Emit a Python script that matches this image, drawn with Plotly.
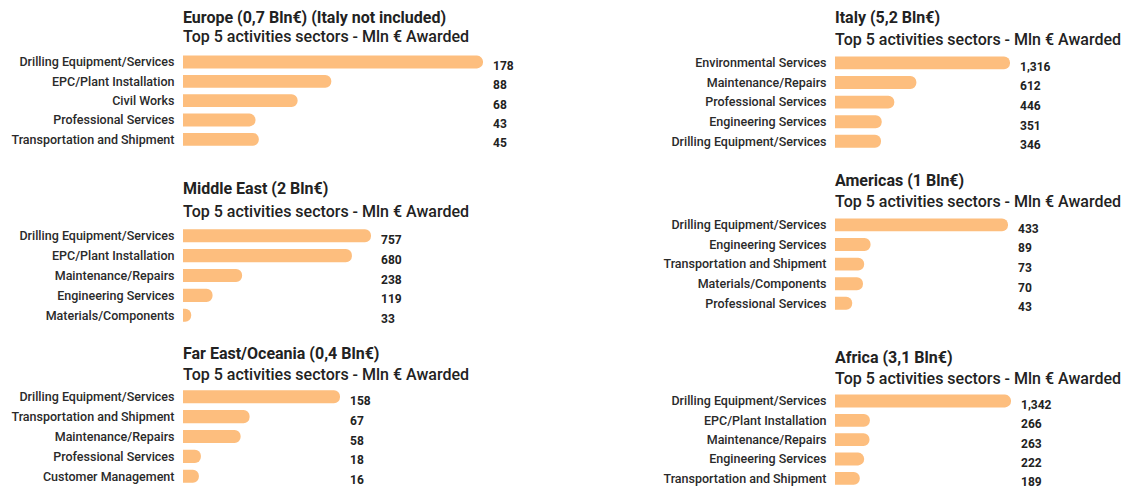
import plotly.graph_objects as go

W, H = 1124, 488

# ---- data ----
europe_cats = ["Drilling Equipment/Services", "EPC/Plant Installation", "Civil Works",
               "Professional Services", "Transportation and Shipment"]
europe_vals = [178, 88, 68, 43, 45]

mideast_cats = ["Drilling Equipment/Services", "EPC/Plant Installation", "Maintenance/Repairs",
                "Engineering Services", "Materials/Components"]
mideast_vals = [757, 680, 238, 119, 33]

fareast_cats = ["Drilling Equipment/Services", "Transportation and Shipment", "Maintenance/Repairs",
                "Professional Services", "Customer Management"]
fareast_vals = [158, 67, 58, 18, 16]

italy_cats = ["Environmental Services", "Maintenance/Repairs", "Professional Services",
              "Engineering Services", "Drilling Equipment/Services"]
italy_vals = [1316, 612, 446, 351, 346]

americas_cats = ["Drilling Equipment/Services", "Engineering Services", "Transportation and Shipment",
                 "Materials/Components", "Professional Services"]
americas_vals = [433, 89, 73, 70, 43]

africa_cats = ["Drilling Equipment/Services", "EPC/Plant Installation", "Maintenance/Repairs",
               "Engineering Services", "Transportation and Shipment"]
africa_vals = [1342, 266, 263, 222, 189]

titles = ["Europe (0,7 Bln€) (Italy not included)", "Middle East (2 Bln€)", "Far East/Oceania (0,4 Bln€)",
          "Italy (5,2 Bln€)", "Americas (1 Bln€)", "Africa (3,1 Bln€)"]
subtitle = "Top 5 activities sectors - Mln € Awarded"

# ---- layout geometry (pixels): bar-start x, max-bar-end x, top row y, bottom row y, title y1, y2 ----
geom = [
    (183, 483, 59, 139, 17, 37),
    (183, 371, 233, 315, 188, 212),
    (183, 340, 394, 476, 353, 374),
    (835, 1010, 60, 141, 18, 40),
    (835, 1008, 222, 303, 180, 201),
    (835, 1011, 398, 478, 357, 378),
]

panels = [(europe_cats, europe_vals), (mideast_cats, mideast_vals), (fareast_cats, fareast_vals),
          (italy_cats, italy_vals), (americas_cats, americas_vals), (africa_cats, africa_vals)]

BAR = "#FDBE7E"
FONT = "Roboto"

fig = go.Figure()
layout = dict(
    width=W, height=H, margin=dict(l=0, r=0, t=0, b=0),
    paper_bgcolor="white", plot_bgcolor="white", showlegend=False,
    bargap=0.34, barcornerradius="50%",
    font=dict(family=FONT, color="#333"),
)
annotations = []

for i, ((cats, vals), (x0, x1, ytop, ybot, ty1, ty2), title) in enumerate(zip(panels, geom, titles)):
    n = i + 1
    xa = "x" if n == 1 else f"x{n}"
    ya = "y" if n == 1 else f"y{n}"
    xkey = "xaxis" if n == 1 else f"xaxis{n}"
    ykey = "yaxis" if n == 1 else f"yaxis{n}"
    pitch = (ybot - ytop) / 4
    top_px = ytop - pitch / 2
    bot_px = ybot + pitch / 2
    fig.add_trace(go.Bar(
        x=vals, y=cats, orientation="h", xaxis=xa, yaxis=ya,
        marker=dict(color=BAR, line=dict(width=0)), hoverinfo="x+y",
    ))
    layout[xkey] = dict(domain=[x0 / W, x1 / W], range=[0, max(vals)], visible=False,
                        anchor=ya, fixedrange=True)
    d0 = max(0.0, 1 - bot_px / H)
    d1 = min(1.0, 1 - top_px / H)
    layout[ykey] = dict(domain=[d0, d1], anchor=xa,
                        categoryorder="array", categoryarray=cats, autorange="reversed",
                        showgrid=False, zeroline=False, showline=False, fixedrange=True,
                        ticks="outside", ticklen=5, tickcolor="rgba(0,0,0,0)",
                        tickfont=dict(family=FONT, size=12.5, weight=500, color="#2a2a2a"))
    for c, v in zip(cats, vals):
        annotations.append(dict(
            xref=xa, yref=ya, x=max(vals), y=c, text=f"<b>{v:,}</b>", showarrow=False,
            xanchor="left", yanchor="middle", xshift=8, yshift=-4,
            font=dict(family=FONT, size=12, color="#222")))
    annotations.append(dict(
        xref="paper", yref="paper", x=x0 / W, y=1 - ty1 / H, text=f"<b>{title}</b>",
        showarrow=False, xanchor="left", yanchor="middle", xshift=-2,
        font=dict(family=FONT, size=16, color="#222")))
    annotations.append(dict(
        xref="paper", yref="paper", x=x0 / W, y=1 - ty2 / H, text=subtitle,
        showarrow=False, xanchor="left", yanchor="middle", xshift=-2,
        font=dict(family=FONT, size=16, weight=500, color="#222")))

layout["annotations"] = annotations
fig.update_layout(**layout)
fig.write_html("out.html", config={"displayModeBar": False},
               post_script="document.body.style.margin='0';document.body.style.overflow='hidden';")
